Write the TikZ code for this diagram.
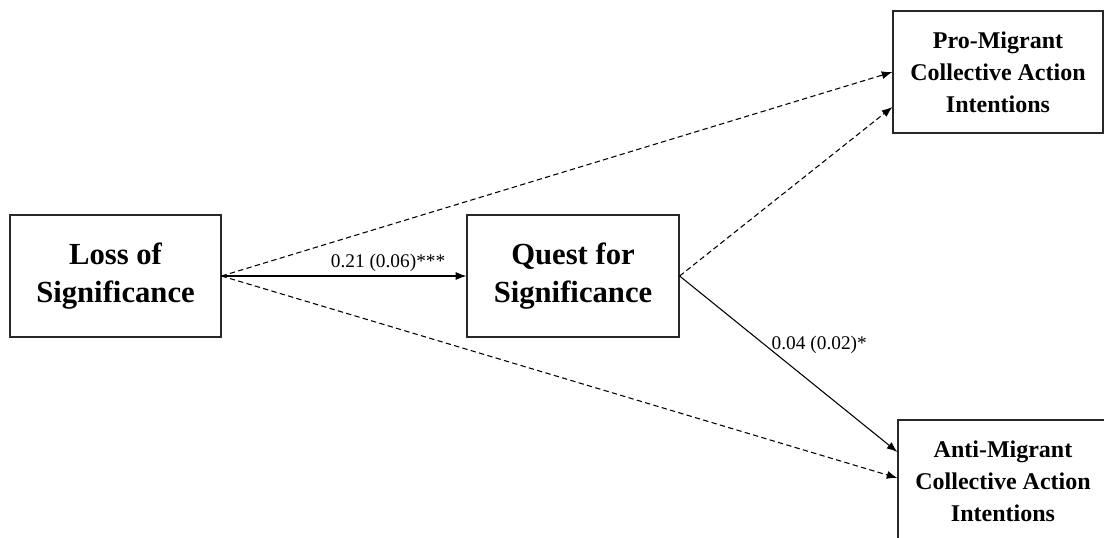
\documentclass[tikz,border=0pt]{standalone}
\usepackage{fontspec}
\setmainfont{Liberation Serif}
\usetikzlibrary{arrows.meta}

\tikzset{every picture/.style={line width=0.75pt}}
\tikzset{
  varbox/.style={draw={rgb,255:red,40;green,40;blue,40}, line width=0.9pt, rectangle, align=center, inner sep=0pt},
  bigvar/.style={varbox, font=\fontsize{23}{28.5}\selectfont\bfseries, minimum width=158.25pt, minimum height=91.5pt},
  outvar/.style={varbox, font=\fontsize{18}{24}\selectfont\bfseries, minimum width=157.5pt, minimum height=91.5pt},
  sigpath/.style={-{Latex[length=8pt,width=6pt]}, line width=0.8pt},
  nspath/.style={sigpath, dash pattern=on 4pt off 2.5pt},
  coef/.style={font=\fontsize{14.5}{16}\selectfont, inner sep=2pt}
}

\begin{document}
\begin{tikzpicture}[x=0.75pt,y=0.75pt,yscale=-1,xscale=1]
\clip (0,0) rectangle (1104,537);

%Shape: Rectangle [id:loss]
\node [bigvar] (loss) at (115.5,276) {Loss of\\Significance};
%Shape: Rectangle [id:quest]
\node [bigvar, minimum width=159pt] (quest) at (573,276) {Quest for\\Significance};
%Shape: Rectangle [id:pro]
\node [outvar] (pro) at (998,72) {Pro-Migrant\\Collective Action\\Intentions};
%Shape: Rectangle [id:anti]
\node [outvar] (anti) at (1003,481) {Anti-Migrant\\Collective Action\\Intentions};

%Straight Lines [id:a_path]
\draw [sigpath] (loss.east) -- (quest.west) node [coef, pos=0.68, anchor=south, yshift=1pt] {0.21 (0.06)***};
%Straight Lines [id:b_path]
\draw [sigpath] (quest.east) -- ([yshift=-21.75pt]anti.west) node [coef, pos=0.39, anchor=west, xshift=3pt] {0.04 (0.02)*};
%Straight Lines [id:c_pro]
\draw [nspath] (loss.east) -- (pro.west);
%Straight Lines [id:c_anti]
\draw [nspath] (loss.east) -- ([yshift=-2.25pt]anti.west);
%Straight Lines [id:b_pro]
\draw [nspath] (quest.east) -- ([yshift=26.25pt]pro.west);

\end{tikzpicture}
\end{document}
